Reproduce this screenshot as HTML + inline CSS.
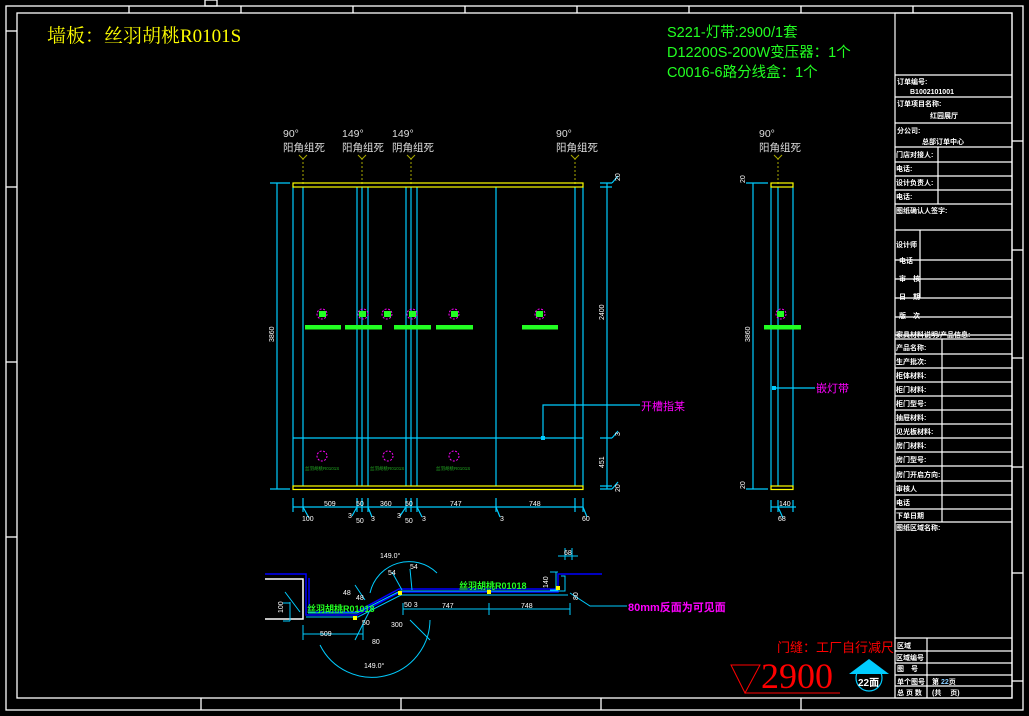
<!DOCTYPE html>
<html><head><meta charset="utf-8"><style>
html,body{margin:0;padding:0;background:#000;}
svg{display:block;}
text{font-family:"Liberation Sans","Noto Sans CJK SC",sans-serif;}
.w{fill:#fff;font-size:7px;font-weight:bold;}
.d{fill:#fff;font-size:7px;}
.mono{font-family:"Liberation Mono","Noto Sans CJK SC",monospace;}
.serif{font-family:"Liberation Serif","Noto Serif CJK SC",serif;}
</style></head><body>
<svg width="1029" height="716" viewBox="0 0 1029 716" xmlns="http://www.w3.org/2000/svg">
<rect width="1029" height="716" fill="#000"/>
<g stroke="#fff" fill="none" stroke-width="1.3">
<rect x="6" y="6" width="1017" height="704"/>
<rect x="17" y="13" width="995" height="685"/>
<rect x="205" y="0" width="12" height="6"/>
<line x1="129" y1="6" x2="129" y2="13"/><line x1="241" y1="6" x2="241" y2="13"/>
<line x1="353" y1="6" x2="353" y2="13"/><line x1="465" y1="6" x2="465" y2="13"/>
<line x1="577" y1="6" x2="577" y2="13"/><line x1="689" y1="6" x2="689" y2="13"/>
<line x1="801" y1="6" x2="801" y2="13"/><line x1="913" y1="6" x2="913" y2="13"/>
<line x1="6" y1="31" x2="17" y2="31"/><line x1="6" y1="187" x2="17" y2="187"/>
<line x1="6" y1="362" x2="17" y2="362"/><line x1="6" y1="537" x2="17" y2="537"/>
<line x1="1012" y1="141" x2="1023" y2="141"/><line x1="1012" y1="250" x2="1023" y2="250"/>
<line x1="1012" y1="358" x2="1023" y2="358"/><line x1="1012" y1="467" x2="1023" y2="467"/>
<line x1="1012" y1="573" x2="1023" y2="573"/><line x1="1012" y1="681" x2="1023" y2="681"/>
<line x1="201" y1="698" x2="201" y2="710"/><line x1="401" y1="698" x2="401" y2="710"/>
<line x1="601" y1="698" x2="601" y2="710"/><line x1="801" y1="698" x2="801" y2="710"/>
</g>
<g stroke="#fff" fill="none" stroke-width="1.2">
<rect x="895" y="13" width="117" height="685"/>
<path d="M895 75H1012M895 97H1012M895 123H1012M895 147H1012M895 162H1012M895 176H1012M895 190H1012M895 204H1012M895 230H1012M895 260H1012M895 279H1012M895 298H1012M895 317H1012M895 335H1012M895 339H1012M895 354H1012M895 368H1012M895 382H1012M895 396H1012M895 410H1012M895 424H1012M895 438H1012M895 452H1012M895 466H1012M895 481H1012M895 495H1012M895 509H1012M895 522H1012M895 638H1012M895 651H1012M895 663H1012M895 675H1012M895 686H1012"/>
<path d="M938 147V204M920 230V298M942 339V522M927 638V698"/>
</g>
<g class="w">
<text x="897" y="84">订单编号:</text><text x="910" y="94">B1002101001</text>
<text x="897" y="106">订单项目名称:</text><text x="930" y="118">红园展厅</text>
<text x="897" y="133">分公司:</text><text x="922" y="144">总部订单中心</text>
<text x="896" y="157">门店对接人:</text><text x="896" y="171">电话:</text>
<text x="896" y="185">设计负责人:</text><text x="896" y="199">电话:</text>
<text x="896" y="213">图纸确认人签字:</text>
<text x="896" y="247">设计师</text><text x="899" y="263">电话</text>
<text x="899" y="281">审　核</text><text x="899" y="299">日　期</text>
<text x="899" y="318">版　次</text><text x="896" y="337">家具材料说明/产品信息:</text>
<text x="896" y="350">产品名称:</text><text x="896" y="364">生产批次:</text>
<text x="896" y="378">柜体材料:</text><text x="896" y="392">柜门材料:</text>
<text x="896" y="406">柜门型号:</text><text x="896" y="420">抽屉材料:</text>
<text x="896" y="434">见光板材料:</text><text x="896" y="448">房门材料:</text>
<text x="896" y="462">房门型号:</text><text x="896" y="477">房门开启方向:</text>
<text x="896" y="491">审核人</text><text x="896" y="505">电话</text>
<text x="896" y="518">下单日期</text><text x="896" y="530">图纸区域名称:</text>
<text x="897" y="648">区域</text><text x="896" y="660">区域编号</text>
<text x="897" y="671">图　号</text><text x="897" y="684">单个图号</text>
<text x="897" y="695">总 页 数</text>
<text x="932" y="684">第 <tspan fill="#8cf">22</tspan>页</text><text x="932" y="695">(共　 页)</text>
</g>
<text x="47" y="42" fill="#ff0" font-size="19" class="serif">墙板：丝羽胡桃R0101S</text>
<g fill="#2f2" font-size="14.5" class="mono">
<text x="667" y="37">S221-灯带:2900/1套</text>
<text x="667" y="57">D12200S-200W变压器：1个</text>
<text x="667" y="77">C0016-6路分线盒：1个</text>
</g>
<g fill="#ddd" font-size="10.5">
<text x="283" y="137">90°</text><text x="283" y="151">阳角组死</text>
<text x="342" y="137">149°</text><text x="342" y="151">阳角组死</text>
<text x="392" y="137">149°</text><text x="392" y="151">阴角组死</text>
<text x="556" y="137">90°</text><text x="556" y="151">阳角组死</text>
<text x="759" y="137">90°</text><text x="759" y="151">阳角组死</text>
</g>
<g stroke="#aa0" stroke-width="1" stroke-dasharray="2,2" fill="none">
<path d="M303 158V186M362 158V186M411 158V186M575 158V186M778 158V186"/>
</g>
<g stroke="#aa0" stroke-width="1" fill="none">
<path d="M299 155L303 159L307 155M358 155L362 159L366 155M407 155L411 159L415 155M571 155L575 159L579 155M774 155L778 159L782 155"/>
</g>
<g stroke="#0cf" stroke-width="1.2" fill="none">
<path d="M293 187V486M303 187V486M357 187V486M362 187V486M368 187V486M406 187V486M411 187V486M417 187V486M496 187V486M575 187V486M583 187V486"/>
<path d="M293 438H583"/>
<path d="M543 438V405H640"/>
<path d="M277 183V489M270 183H290M270 489H290"/>
<path d="M607 183V489M600 183H612M600 187H612M600 438H612M600 486H612M600 489H612"/>
<path d="M612 183L618 176M612 438L618 431M612 489L618 482"/>
<path d="M293 507H583M293 498V512M303 498V512M357 498V512M362 498V512M368 498V512M406 498V512M411 498V512M417 498V512M496 498V512M575 498V512M583 498V512"/>
<path d="M303 507L309 518M357 507L352 516M368 507L372 517M406 507L400 516M417 507L422 517M496 507L500 517M583 507L587 517"/>
<path d="M771 187V486M778 187V486M793 187V486"/>
<path d="M753 183V489M746 183H768M746 489H768"/>
<path d="M774 388H815"/>
<path d="M771 500V512M778 500V512M793 500V512M771 507H796M778 507L783 518"/>
</g>
<rect x="541" y="436" width="4" height="4" fill="#0cf"/>
<rect x="772" y="386" width="4" height="4" fill="#0cf"/>
<g stroke="#ff0" stroke-width="1.2" fill="none">
<rect x="293" y="183" width="290" height="4"/><rect x="293" y="486" width="290" height="3.5"/>
<rect x="771" y="183" width="22" height="4"/><rect x="771" y="486" width="22" height="3.5"/>
</g>
<g fill="#2f2">
<rect x="305" y="325" width="36" height="4.5"/><rect x="345" y="325" width="37" height="4.5"/>
<rect x="394" y="325" width="37" height="4.5"/><rect x="436" y="325" width="37" height="4.5"/>
<rect x="522" y="325" width="36" height="4.5"/><rect x="764" y="325" width="37" height="4.5"/>
<rect x="319" y="311" width="7" height="6"/><rect x="359" y="311" width="7" height="6"/>
<rect x="384" y="311" width="7" height="6"/><rect x="409" y="311" width="7" height="6"/>
<rect x="451" y="311" width="7" height="6"/><rect x="536" y="311" width="7" height="6"/>
<rect x="777" y="311" width="7" height="6"/>
</g>
<g stroke="#f0f" stroke-width="1" fill="none" stroke-dasharray="2,1.5">
<circle cx="322" cy="314" r="5"/><circle cx="363" cy="314" r="5"/><circle cx="387" cy="314" r="5"/>
<circle cx="412" cy="314" r="5"/><circle cx="454" cy="314" r="5"/><circle cx="540" cy="314" r="5"/>
<circle cx="781" cy="314" r="5"/>
<circle cx="322" cy="456" r="5"/><circle cx="388" cy="456" r="5"/><circle cx="454" cy="456" r="5"/>
</g>
<g fill="#2a2" font-size="4.5">
<text x="305" y="470">丝羽胡桃R0101S</text><text x="370" y="470">丝羽胡桃R0101S</text><text x="436" y="470">丝羽胡桃R0101S</text>
</g>
<g class="d">
<text transform="translate(274,342) rotate(-90)">3860</text>
<text transform="translate(604,320) rotate(-90)">2400</text>
<text transform="translate(604,468) rotate(-90)">451</text>
<text transform="translate(620,181) rotate(-90)">20</text>
<text transform="translate(620,492) rotate(-90)">20</text>
<text transform="translate(620,436) rotate(-90)">3</text>
<text transform="translate(750,342) rotate(-90)">3860</text>
<text transform="translate(745,183) rotate(-90)">20</text>
<text transform="translate(745,489) rotate(-90)">20</text>
<text x="324" y="506">509</text><text x="356" y="506">50</text><text x="380" y="506">360</text>
<text x="405" y="506">50</text><text x="450" y="506">747</text><text x="529" y="506">748</text>
<text x="302" y="521">100</text><text x="348" y="518">3</text><text x="356" y="523">50</text>
<text x="371" y="521">3</text><text x="397" y="518">3</text><text x="405" y="523">50</text>
<text x="422" y="521">3</text><text x="500" y="521">3</text><text x="582" y="521">60</text>
<text x="779" y="506">140</text><text x="778" y="521">68</text>
</g>
<g fill="#f0f" font-size="11">
<text x="641" y="410">开槽指某</text><text x="816" y="392">嵌灯带</text>
<text x="628" y="611" font-weight="bold">80mm反面为可见面</text>
</g>
<g stroke="#fff" stroke-width="1.5" fill="none"><path d="M265 579H303V619H265"/></g>
<g stroke="#00f" stroke-width="1.5" fill="none">
<path d="M265 574H306V615H357L400 592H558V574H602"/>
<path d="M309 578V612H356L399 589H556"/>
</g>
<g stroke="#0cf" stroke-width="1" fill="none">
<path d="M306 617H358L401 595H568"/>
<path d="M308 613H357L400 591H565V576H561"/>
<path d="M290 602V621M283 603H290M283 621H290"/>
<path d="M303 625V640M363 625V640M303 634H363"/>
<path d="M403 609H570M403 603V615M570 603V615M489 603V615"/>
<path d="M570 593L590 606H627"/>
<path d="M565 548V560M572 548V560M558 556H578M550 572H558M550 590H558M556 572V590"/>
<path d="M370 593A40 40 0 0 1 437 573"/>
<path d="M320 645A58 58 0 0 0 430 620"/>
<path d="M355 585L365 600M392 572L402 590M410 569L412 590M355 640L370 610M410 620L430 640M285 592L300 612"/>
</g>
<g fill="#ff0"><rect x="353" y="616" width="4" height="4"/><rect x="398" y="591" width="4" height="4"/><rect x="487" y="590" width="4" height="4"/><rect x="556" y="586" width="4" height="4"/></g>
<g fill="#2f2" font-size="9" font-weight="bold">
<text x="307" y="612">丝羽胡桃R01018</text><text x="459" y="589">丝羽胡桃R01018</text>
</g>
<g class="d">
<text x="380" y="558">149.0°</text><text x="364" y="668">149.0°</text>
<text x="320" y="636">509</text><text x="442" y="608">747</text><text x="521" y="608">748</text>
<text x="404" y="607">50 3</text><text x="564" y="555">68</text>
<text transform="translate(283,613) rotate(-90)">100</text>
<text transform="translate(548,588) rotate(-90)">140</text>
<text transform="translate(578,600) rotate(-90)">80</text>
<text x="388" y="575">54</text><text x="410" y="569">54</text>
<text x="343" y="595">48</text><text x="356" y="600">48</text>
<text x="391" y="627">300</text><text x="372" y="644">80</text><text x="362" y="625">50</text>
</g>
<text x="777" y="652" fill="#f00" font-size="13">门缝：工厂自行减尺</text>
<path d="M731 665H760L745 693Z" stroke="#f00" fill="none" stroke-width="1"/>
<path d="M745 693H840" stroke="#f00" stroke-width="1"/>
<text x="761" y="688" fill="#f00" font-size="36" class="serif">2900</text>
<circle cx="869" cy="678" r="13" stroke="#0cf" fill="none" stroke-width="1.2"/>
<path d="M849 674L869 659L889 674Z" fill="#0cf"/>
<text x="858" y="686" fill="#fff" font-size="10" font-weight="bold">22面</text>
</svg>
</body></html>
